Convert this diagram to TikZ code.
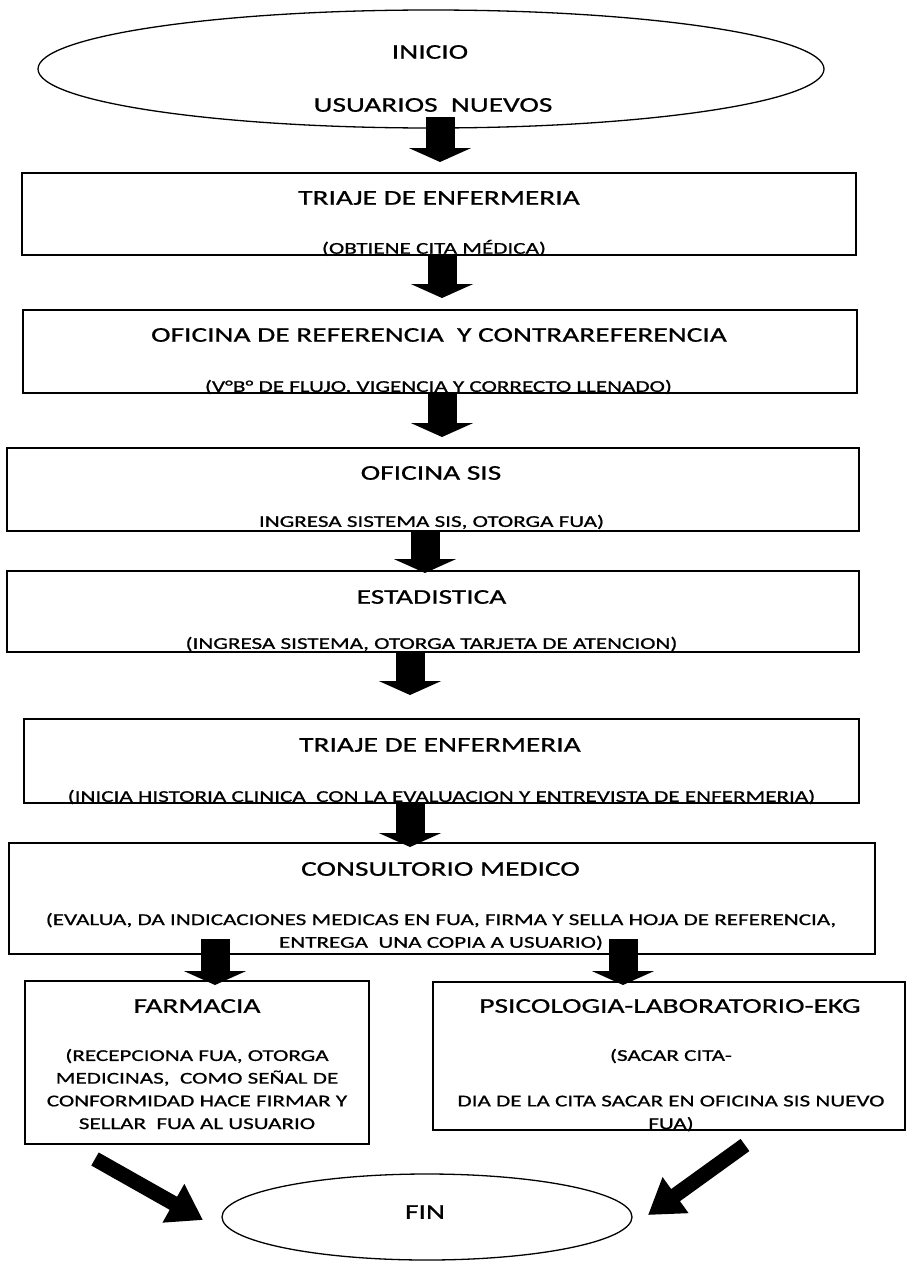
\documentclass[tikz,border=0pt]{standalone}
\usepackage{fontspec}
\setmainfont[FakeStretch=1.4,FakeBold=0.8]{Carlito}
\usetikzlibrary{arrows.meta,shapes.geometric}
\tikzset{
  box/.style={draw, line width=1.6pt, rectangle, inner sep=0pt},
  oval/.style={draw, line width=1.3pt, ellipse, inner sep=0pt},
  ttl/.style={font=\fontsize{21}{25}\selectfont, inner sep=0pt},
  sub/.style={font=\fontsize{16.5}{22.7}\selectfont, inner sep=0pt, align=center},
  barrow/.style={line width=29pt, -{Triangle[length=14pt,width=62pt]}},
  darrow/.style={line width=15pt, -{Triangle[length=34pt,width=42pt]}}
}
\begin{document}
\begin{tikzpicture}[x=1pt,y=-1pt]
\useasboundingbox[fill=white] (0,0) rectangle (907,1263);
% shapes
\node[oval, minimum width=786pt, minimum height=118pt] (ini) at (431,69) {};
\node[box, minimum width=834pt, minimum height=82pt] (t1) at (439,214) {};
\node[box, minimum width=834pt, minimum height=83pt] (ref) at (440,351.5) {};
\node[box, minimum width=852pt, minimum height=83pt] (sis) at (433,489.5) {};
\node[box, minimum width=852pt, minimum height=81pt] (est) at (433,611.5) {};
\node[box, minimum width=835pt, minimum height=84pt] (t2) at (441.5,761) {};
\node[box, minimum width=866pt, minimum height=111pt] (con) at (442,898.5) {};
\node[box, minimum width=344pt, minimum height=163pt] (far) at (197,1062.5) {};
\node[box, minimum width=472pt, minimum height=148pt] (psi) at (669,1056) {};
\node[oval, minimum width=410pt, minimum height=86pt] (fin) at (427,1217) {};
% texts
\node[ttl] (tini) at (430,52) {INICIO};
\node[ttl] (tusu) at (433,105) {USUARIOS\ \ NUEVOS};
\node[ttl] (tt1) at (439,198) {TRIAJE DE ENFERMERIA};
\node[sub] (st1) at (434,248) {(OBTIENE CITA MÉDICA)};
\node[ttl] (tref) at (439,335) {OFICINA DE REFERENCIA\ \ Y CONTRAREFERENCIA};
\node[sub] (sref) at (438.5,387) {(V°B° DE FLUJO, VIGENCIA Y CORRECTO LLENADO)};
\node[ttl] (tsis) at (431,473) {OFICINA SIS};
\node[sub] (ssis) at (431.5,522) {INGRESA SISTEMA SIS, OTORGA FUA)};
\node[ttl] (test) at (431.5,597) {ESTADISTICA};
\node[sub] (sest) at (431.5,644) {(INGRESA SISTEMA, OTORGA TARJETA DE ATENCION)};
\node[ttl] (tt2) at (440,745) {TRIAJE DE ENFERMERIA};
\node[sub] (st2) at (441.5,797) {(INICIA HISTORIA CLINICA\ \ CON LA EVALUACION Y ENTREVISTA DE ENFERMERIA)};
\node[ttl] (tcon) at (440.5,869) {CONSULTORIO MEDICO};
\node[sub] (scon) at (441,931.5) {(EVALUA, DA INDICACIONES MEDICAS EN FUA, FIRMA Y SELLA HOJA DE REFERENCIA,\\ENTREGA\ \ UNA COPIA A USUARIO)};
\node[ttl] (tfar) at (197,1006) {FARMACIA};
\node[sub] (sfar) at (197,1089) {(RECEPCIONA FUA, OTORGA\\MEDICINAS,\ \ COMO SEÑAL DE\\CONFORMIDAD HACE FIRMAR Y\\SELLAR\ \ FUA AL USUARIO};
\node[ttl] (tpsi) at (670,1006) {PSICOLOGIA-LABORATORIO-EKG};
\node[sub] (spsi1) at (671,1056) {(SACAR CITA-};
\node[sub] (spsi2) at (671,1113.5) {DIA DE LA CITA SACAR EN OFICINA SIS NUEVO\\FUA)};
\node[ttl] (tfin) at (425,1212) {FIN};
% arrow coordinates
\coordinate (a1s) at (440,117); \coordinate (a1e) at (440,162);
\coordinate (a2e) at (442,298);
\coordinate (a3e) at (442,437);
\coordinate (a4e) at (425,573);
\coordinate (a5e) at (410,695);
\coordinate (a6e) at (410,847);
\coordinate (a7ls) at (215,939); \coordinate (a7le) at (215,985);
\coordinate (a7rs) at (623,939); \coordinate (a7re) at (623,985);
\coordinate (dls) at (95,1159); \coordinate (dle) at (203,1220);
\coordinate (drs) at (745,1145); \coordinate (dre) at (648,1215);
% arrows
\draw[barrow] (a1s) -- (a1e);
\draw[barrow] (t1.south -| a2e) -- (a2e);
\draw[barrow] (ref.south -| a3e) -- (a3e);
\draw[barrow] (sis.south -| a4e) -- (a4e);
\draw[barrow] (est.south -| a5e) -- (a5e);
\draw[barrow] (t2.south -| a6e) -- (a6e);
\draw[barrow] (a7ls) -- (a7le);
\draw[barrow] (a7rs) -- (a7re);
\draw[darrow] (dls) -- (dle);
\draw[darrow] (drs) -- (dre);
\end{tikzpicture}
\end{document}
